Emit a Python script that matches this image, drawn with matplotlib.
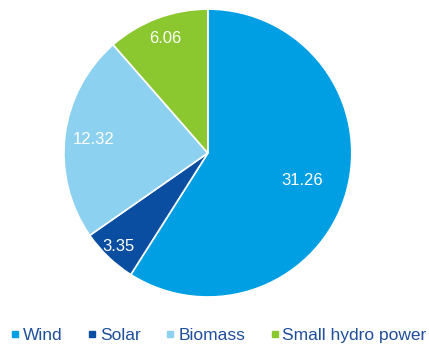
#!/usr/bin/env python3

import numpy as np
import matplotlib
matplotlib.use('Agg')
import matplotlib.pyplot as plt
from matplotlib.lines import Line2D

labels = ['Wind', 'Solar', 'Biomass', 'Small hydro power']
values = [31.26, 3.35, 12.32, 6.06]
colors = ['#009fe3', '#0a4ea2', '#8dd1f1', '#8bc72f']
label_dist = [0.68, 0.9, 0.8, 0.85]

plt.rcParams['font.family'] = ['Liberation Sans', 'DejaVu Sans']

fig = plt.figure(figsize=(4.29, 3.49), dpi=100)
ax = fig.add_axes([0.149, 0.149, 0.671, 0.825])

wedges, texts = ax.pie(values, colors=colors, startangle=90, counterclock=False,
                       wedgeprops=dict(edgecolor='white', linewidth=1.2))
ax.set_xlim(-1, 1)
ax.set_ylim(-1, 1)
ax.set_aspect('equal')

for w, v, d in zip(wedges, values, label_dist):
    ang = np.deg2rad((w.theta1 + w.theta2) / 2)
    ax.text(d * np.cos(ang), d * np.sin(ang), f'{v:.2f}', color='white',
            fontsize=12, ha='center', va='center')

handles = [Line2D([], [], marker='s', linestyle='none', markersize=5,
                  markerfacecolor=c, markeredgecolor=c) for c in colors]
fig.legend(handles, labels, loc='center', bbox_to_anchor=(0.508, 0.04), ncol=4,
           frameon=False, fontsize=12.5, handletextpad=0.1, columnspacing=1.35,
           handlelength=0.7, labelcolor='#1f4e9c', borderpad=0.1)

fig.savefig('out.png', dpi=100)
